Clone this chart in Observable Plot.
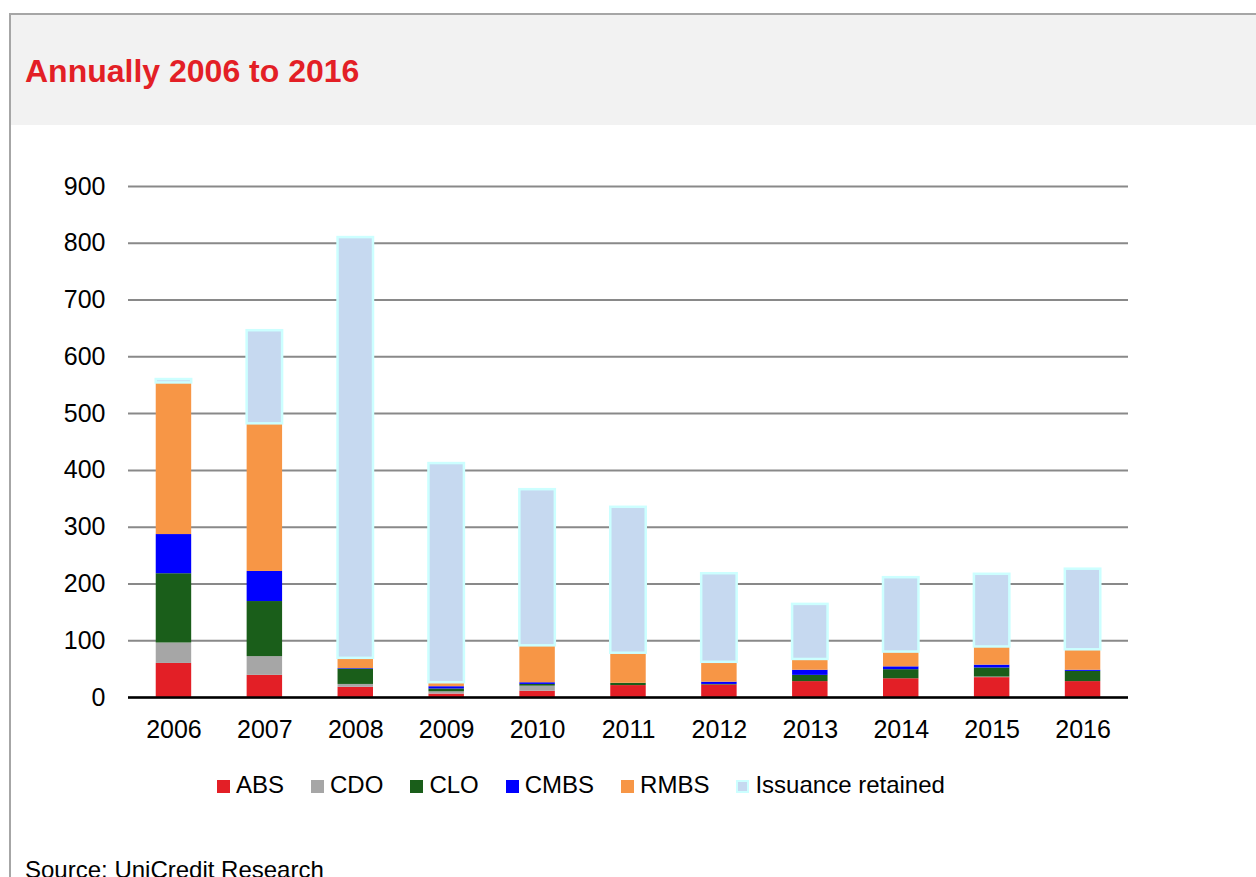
<!DOCTYPE html>
<html>
<head>
<meta charset="utf-8">
<script src="https://cdn.jsdelivr.net/npm/d3@7"></script>
<script src="https://cdn.jsdelivr.net/npm/@observablehq/plot@0.6"></script>
<style>
  html, body { margin: 0; padding: 0; background: #fff; }
  body { width: 1256px; height: 877px; position: relative; overflow: hidden;
         font-family: "Liberation Sans", Arial, sans-serif; }
  #frame { position: absolute; left: 9px; top: 13px; width: 1300px; height: 1000px;
           border: 2px solid #a6a6a6; box-sizing: border-box; }
  #header { position: absolute; left: 11px; top: 15px; width: 1300px; height: 110px; background: #f2f2f2; }
  #title { position: absolute; left: 25px; top: 55px; font-size: 32px; line-height: 32px;
           font-weight: bold; color: #e31f26; white-space: nowrap; }
  #chart { position: absolute; left: 0; top: 140px; }
  #legend { position: absolute; left: 217px; top: 773px; font-size: 24px; line-height: 24px;
            white-space: nowrap; color: #000; }
  #legend .item { display: inline-block; margin-right: 27px; }
  #legend .sw { display: inline-block; width: 13px; height: 13px; margin-right: 6px; vertical-align: baseline; box-sizing: border-box; }
  #source { position: absolute; left: 25px; top: 858px; font-size: 24px; line-height: 24px; color: #000; white-space: nowrap; }
</style>
</head>
<body>
<div id="frame"></div>
<div id="header"></div>
<div id="title">Annually 2006 to 2016</div>
<div id="chart"></div>
<div id="legend"></div>
<div id="source">Source: UniCredit Research</div>
<script>
const years = ["2006","2007","2008","2009","2010","2011","2012","2013","2014","2015","2016"];
const seriesNames = ["ABS","CDO","CLO","CMBS","RMBS","Issuance retained"];
const seriesColors = ["#e31f26","#a6a6a6","#1a5e1a","#0000ff","#f79646","#c6d9f0"];
const abs      = [60, 39, 18, 6, 11, 21, 22, 28, 33, 35, 28];
const cdo      = [36, 33, 5, 4, 9, 0, 0, 0, 0, 1, 0];
const clo      = [122, 97, 27, 5, 3, 4, 1, 11, 16, 16, 18];
const cmbs     = [69, 53, 1, 4, 3, 0, 4, 9, 5, 5, 2];
const rmbs     = [267, 260, 18, 7, 65, 53, 35, 19, 26, 32, 36];
const retained = [6, 164, 741, 386, 275, 257, 156, 97, 131, 128, 142];
const yTicks = [0,100,200,300,400,500,600,700,800,900];

const seriesValues = [abs, cdo, clo, cmbs, rmbs, retained];
const data = [];
seriesNames.forEach((s, i) => {
  years.forEach((y, j) => data.push({year: y, series: s, value: seriesValues[i][j]}));
});

const chart = Plot.plot({
  width: 1256,
  height: 620,
  marginTop: 46,
  marginBottom: 63,
  marginLeft: 128,
  marginRight: 128,
  style: {fontFamily: '"Liberation Sans", Arial, sans-serif', fontSize: "25px", color: "#000", background: "transparent"},
  x: {domain: years, paddingInner: 0.61, paddingOuter: 0.305, round: false, label: null},
  y: {domain: [0, 900], label: null},
  color: {domain: seriesNames, range: seriesColors},
  opacity: {domain: [0, 1], range: [0, 1]},
  marks: [
    Plot.ruleY(yTicks, {stroke: "#898989", strokeWidth: 2}),
    Plot.barY(data, {
      x: "year", y: "value", fill: "series",
      stroke: "#ccffff", strokeWidth: 2.5,
      strokeOpacity: d => d.series === "Issuance retained" ? 1 : 0
    }),
    Plot.ruleY([0], {stroke: "#000", strokeWidth: 2.5}),
    Plot.axisY({ticks: yTicks, tickSize: 0, tickPadding: 23, fontSize: 25, label: null}),
    Plot.axisX({tickSize: 0, tickPadding: 23, fontSize: 25, label: null})
  ]
});
document.getElementById("chart").appendChild(chart);

const legend = document.getElementById("legend");
seriesNames.forEach((s, i) => {
  const item = document.createElement("span");
  item.className = "item";
  const sw = document.createElement("span");
  sw.className = "sw";
  sw.style.background = seriesColors[i];
  if (s === "Issuance retained") sw.style.border = "2px solid #ccffff";
  item.appendChild(sw);
  item.appendChild(document.createTextNode(s));
  legend.appendChild(item);
});
</script>
</body>
</html>
